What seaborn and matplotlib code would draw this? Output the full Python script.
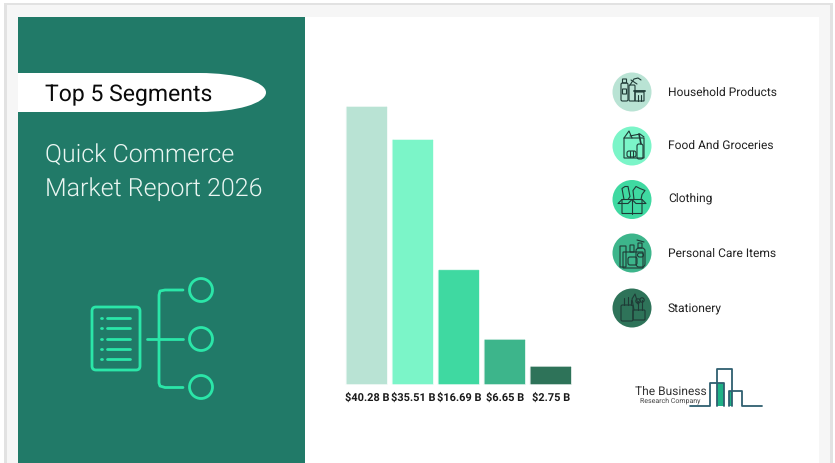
import matplotlib
matplotlib.use("Agg")
import matplotlib.pyplot as plt
import seaborn as sns
import pandas as pd
from matplotlib.patches import Rectangle, Circle, FancyBboxPatch, Ellipse
from matplotlib.transforms import IdentityTransform

segments = ["Household Products", "Food And Groceries", "Clothing", "Personal Care Items", "Stationery"]
values = [40.28, 35.51, 16.69, 6.65, 2.75]
value_labels = ["$40.28 B", "$35.51 B", "$16.69 B", "$6.65 B", "$2.75 B"]
colors = ["#B9E3D4", "#7BF5C8", "#3FD9A1", "#3DB58B", "#2E7359"]
title_badge = "Top 5 Segments"
title_lines = ["Quick Commerce", "Market Report 2026"]

PANEL = "#217A68"
BRIGHT = "#2BE6A8"
INK = "#1F3B36"
W, H = 835, 464

sns.set_theme(style="white")
plt.rcParams["font.family"] = ["Roboto", "DejaVu Sans"]
plt.rcParams["text.hinting"] = "no_hinting"
plt.rcParams["text.hinting_factor"] = 1

fig = plt.figure(figsize=(W / 100, H / 100), dpi=100, facecolor="white")
bg = fig.add_axes([0, 0, 1, 1])
bg.set_xlim(0, W)
bg.set_ylim(H - 1, -1)
bg.axis("off")


def rect(x0, y0, x1, y1, **kw):
    bg.add_patch(Rectangle((x0, y0), x1 - x0, y1 - y0, lw=kw.pop("lw", 0), **kw))


def line(xs, ys, color=INK, lw=0.8, **kw):
    bg.plot(xs, ys, color=color, lw=lw, solid_capstyle="round", solid_joinstyle="round", **kw)


def box(x0, y0, x1, y1, color=INK, lw=0.8, fill="none", r=0.0):
    bg.add_patch(FancyBboxPatch((x0, y0), x1 - x0, y1 - y0,
                                boxstyle=f"round,pad=0,rounding_size={r}",
                                fc=fill, ec=color, lw=lw))


# page frame
rect(4, 3, 833, 465, fc="#E2E2E2")
rect(7, 5, 830, 465, fc="#F6F6F6")
rect(18, 17, 819, 465, fc="white")
rect(18, 17, 305, 465, fc=PANEL)

# title badge
rect(18, 73, 200, 112, fc="white")
bg.add_patch(Ellipse((200, 92.5), 132, 39, fc="white", lw=0))
bg.text(45, 100, title_badge, fontsize=16.9, color="#0A0A0A", va="baseline", ha="left", fontweight=400)
bg.text(45, 161, title_lines[0], fontsize=18.2, color="#EAF6F2", va="baseline", ha="left", fontweight=300)
bg.text(45, 195, title_lines[1], fontsize=18.2, color="#EAF6F2", va="baseline", ha="left", fontweight=300)

# document / tree icon
LW = 2.0
box(92, 307, 140, 370, color=BRIGHT, lw=LW, r=4)
for yy in [318, 328, 338.5, 349, 359]:
    line([107, 130], [yy, yy], color=BRIGHT, lw=LW)
    line([100.5, 101.5], [yy, yy], color=BRIGHT, lw=LW)
line([147, 183], [339, 339], color=BRIGHT, lw=LW)
line([183, 165, 160, 159, 159, 160, 165, 183],
     [290, 290, 291, 295, 383, 386, 387.5, 387.5], color=BRIGHT, lw=LW)
for yy in [290, 339, 387]:
    bg.add_patch(Circle((201, yy), 11.5, fc="none", ec=BRIGHT, lw=LW))

# legend rows
legend_y = [92, 146, 199.5, 253, 308]
label_baseline = [94.5, 147.5, 200.5, 255.5, 311.5]
for cy, by, c, name in zip(legend_y, label_baseline, colors, segments):
    bg.add_patch(Circle((632, cy), 19.5, fc=c, lw=0))
    bg.text(668, by, name, fontsize=8.6, color="#222222", va="baseline", ha="left")

# household icon
cy = legend_y[0]
box(621, cy - 9, 628, cy + 9, r=1.5)
box(622.5, cy - 13, 626.5, cy - 9)
box(622.5, cy - 3, 626.5, cy + 2)
box(629, cy - 7, 635, cy + 9, r=1)
line([630, 634, 638, 641], [cy - 7, cy - 13, cy - 14, cy - 12])
line([631, 637], [cy - 12, cy - 8])
box(635, cy + 0, 644, cy + 9)
line([634, 645], [cy - 1, cy - 1], lw=1.3)
for xx in [638, 641]:
    line([xx, xx], [cy + 3, cy + 9])

# groceries icon
cy = legend_y[1]
box(624, cy - 8, 644, cy + 12)
line([624, 629, 632], [cy - 8, cy - 15, cy - 8])
line([630, 640, 644], [cy - 10, cy - 12, cy - 9])
box(637, cy - 2, 643, cy + 13, r=2)
line([639, 641], [cy - 12, cy - 2], lw=1.2)
box(627, cy + 5, 636, cy + 11, r=2)
for xx in [630, 633]:
    line([xx, xx], [cy + 5, cy + 11])

# clothing icon
cy = legend_y[2]
box(622, cy + 0, 642, cy + 14)
line([632, 632], [cy, cy + 14])
line([622, 618, 628, 632, 636, 646, 642], [cy, cy + 4, cy + 4, cy, cy + 4, cy + 4, cy])
line([624, 622, 625, 628, 630, 628], [cy, cy - 11, cy - 13, cy - 13, cy - 3, cy])
line([634, 633, 636, 640, 645, 642, 641], [cy, cy - 9, cy - 13, cy - 11, cy - 9, cy - 5, cy])

# personal care icon
cy = legend_y[3]
box(620, cy - 7, 626, cy + 14)
box(623, cy - 1, 643, cy + 15)
box(630, cy - 8, 634, cy - 1)
box(636, cy - 5, 645, cy + 14, r=3)
box(638, cy - 10, 642, cy - 5)
line([637, 644], [cy - 13, cy - 11])
box(628, cy + 4, 637, cy + 12, r=2)
box(637.5, cy + 0, 643.5, cy + 4, r=2)

# stationery icon
cy = legend_y[4]
box(621, cy - 3, 633, cy + 13, r=1.5)
box(633, cy + 2, 645, cy + 12, r=1)
for xx, top in [(624, -10), (628, -11), (631, -8)]:
    line([xx, xx], [cy + top, cy - 3])
line([634, 632, 635, 638], [cy + 2, cy - 9, cy - 14, cy - 4])
for xx, top in [(638, -7), (642, -8)]:
    line([xx, xx], [cy + top, cy + 2])
    bg.add_patch(Circle((xx, cy + top), 2.2, fc="none", ec=INK, lw=0.8))

# logo
LOGO = "#2F5F70"
bg.text(635, 391, "The Business", fontsize=8.7, color="#333333", va="center", ha="left")
bg.text(640, 399.5, "Research Company", fontsize=5.0, color="#444444", va="center", ha="left")
rect(717, 383, 723.5, 405.5, fc="#1FB186")
rect(729, 391, 732, 405.5, fc="#1FB186")
line([690, 710, 710, 723.5, 723.5], [405.5, 405.5, 383, 383, 405.5], color=LOGO, lw=1.3)
line([717, 717, 732, 732], [405.5, 369, 369, 405.5], color=LOGO, lw=1.3)
line([729, 729, 742, 742, 762], [405.5, 390.5, 390.5, 405.5, 405.5], color=LOGO, lw=1.3)

# bar chart
ax = fig.add_axes([343.8 / W, 1 - 386 / H, 230 / W, 279 / H])
ax.patch.set_alpha(0)
df = pd.DataFrame({"segment": segments, "value": values})
sns.barplot(data=df, x="segment", y="value", hue="segment", palette=colors,
            order=segments, hue_order=segments, legend=False, dodge=False,
            width=42 / 46, saturation=1, ax=ax)
ax.set_xlim(-0.5, 4.5)
ax.set_ylim(0, max(values))
ax.set_xlabel("")
ax.set_ylabel("")
ax.set_yticks([])
ax.set_xticks(range(len(segments)))
ax.set_xticklabels(value_labels, fontsize=7.8, fontweight="bold", color="#1A1A1A")
ax.tick_params(axis="x", length=0, pad=5)
for sp in ax.spines.values():
    sp.set_visible(False)

# soft corners on the tops of the bars
fig.canvas.draw()
for bar in ax.patches:
    bar.set_snap(False)
    e = bar.get_window_extent()
    clip = FancyBboxPatch((e.x0, e.y0 - 6), e.width, e.height + 6,
                          boxstyle="round,pad=0,rounding_size=2.5",
                          transform=IdentityTransform())
    bar.set_clip_path(clip)

fig.savefig("out.png", dpi=100, facecolor="white")
